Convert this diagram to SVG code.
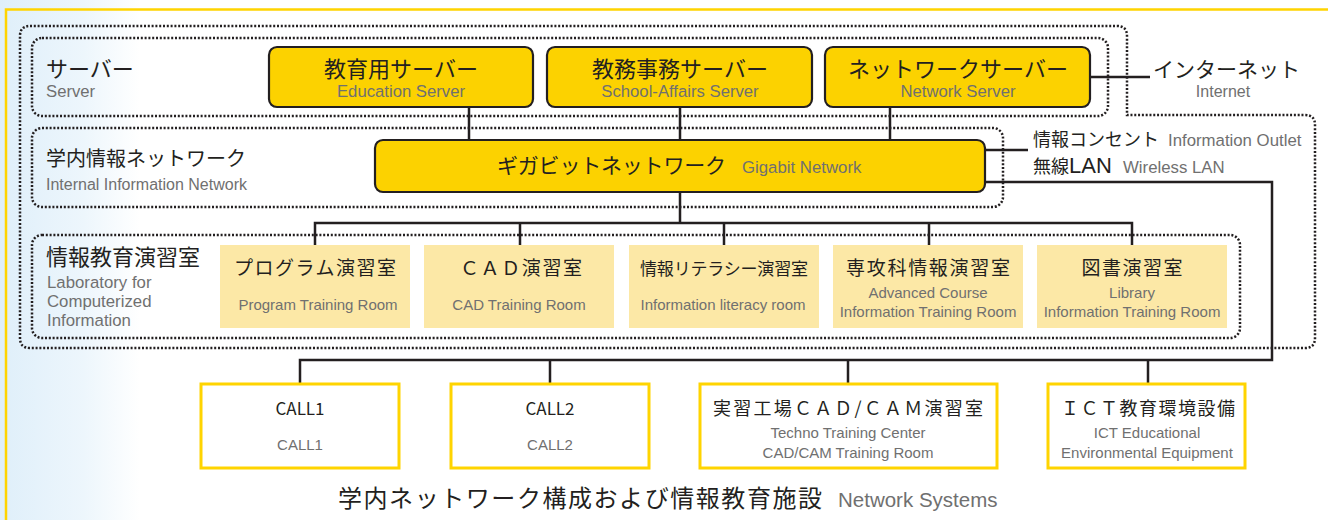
<svg xmlns="http://www.w3.org/2000/svg" width="1328" height="520" viewBox="0 0 1328 520">
<defs>
<linearGradient id="bg" x1="0" x2="1" y1="0" y2="0">
<stop offset="0" stop-color="#dfeffa"/>
<stop offset="0.6" stop-color="#edf6fc"/>
<stop offset="1" stop-color="#ffffff"/>
</linearGradient>
<style>
.dot{fill:none;stroke:#231F20;stroke-width:2.5;stroke-dasharray:2 1.8}
.srv{fill:#FCD200;stroke:#231F20;stroke-width:2.2}
.room{fill:#FCE8A6}
.bx{fill:#ffffff;stroke:#FFD400;stroke-width:3}
.jp{font-family:"Noto Sans CJK JP","Noto Sans CJK SC",sans-serif;fill:#231F20}
.en{font-family:"Liberation Sans",Arial,sans-serif;fill:#707070}
.ln{fill:none;stroke:#231F20;stroke-width:2.5}
.c{text-anchor:middle}
</style>
</defs>
<rect x="0" y="0" width="1328" height="520" fill="#ffffff"/>
<rect x="0" y="0" width="140" height="520" fill="url(#bg)"/>
<rect x="6" y="9.5" width="1340" height="530" fill="none" stroke="#FFD400" stroke-width="2.5"/>

<g id="groups">
<path class="dot" d="M30 26 H1117 Q1127 26 1127 36 V115 H1305 Q1315 115 1315 125 V338 Q1315 348 1305 348 H30 Q20 348 20 338 V36 Q20 26 30 26 Z"/>
<rect class="dot" x="32" y="38" width="1076" height="78" rx="10"/>
<rect class="dot" x="32" y="128" width="971" height="79" rx="10"/>
<rect class="dot" x="32" y="235" width="1208" height="103" rx="10"/>
<text class="jp" x="46" y="77" font-size="22">サーバー</text>
<text class="en" x="46" y="97" font-size="16.7">Server</text>
<text class="jp" x="46" y="166" font-size="20">学内情報ネットワーク</text>
<text class="en" x="46" y="190" font-size="16">Internal Information Network</text>
<text class="jp" x="46" y="265" font-size="22">情報教育演習室</text>
<text class="en" x="47" y="288" font-size="16.8">Laboratory for</text>
<text class="en" x="47" y="307" font-size="16.8">Computerized</text>
<text class="en" x="47" y="326" font-size="16.8">Information</text>
</g>

<g id="connectors">
<path class="ln" d="M469 107 V140 M680 107 V140 M890 107 V140"/>
<path class="ln" d="M1090 77 H1150"/>
<path class="ln" d="M985 150 H1028"/>
<path class="ln" d="M985 182 H1272 V360 H300 V384 M550 360 V384 M848 360 V384 M1148 360 V384"/>
<path class="ln" d="M680 192 V223 M315 245 V223 H1132 V245 M520 223 V245 M724 223 V245 M929 223 V245"/>
</g>

<g id="education-server">
<rect class="srv" x="269" y="47" width="264" height="60" rx="8"/>
<text class="jp c" x="401" y="77" font-size="22">教育用サーバー</text>
<text class="en c" x="401" y="97" font-size="16.7">Education Server</text>
</g>
<g id="school-affairs-server">
<rect class="srv" x="547" y="47" width="265" height="60" rx="8"/>
<text class="jp c" x="680" y="77" font-size="22">教務事務サーバー</text>
<text class="en c" x="680" y="97" font-size="16.7">School-Affairs Server</text>
</g>
<g id="network-server">
<rect class="srv" x="825" y="47" width="265" height="60" rx="8"/>
<text class="jp c" x="958" y="77" font-size="22">ネットワークサーバー</text>
<text class="en c" x="958" y="97" font-size="16.7">Network Server</text>
</g>
<g id="internet">
<text class="jp" x="1153" y="77" font-size="21">インターネット</text>
<text class="en c" x="1223" y="97" font-size="16">Internet</text>
</g>
<g id="gigabit">
<rect class="srv" x="375" y="140" width="610" height="52" rx="8"/>
<text class="jp" x="497" y="173" font-size="21" textLength="229">ギガビットネットワーク</text>
<text class="en" x="742" y="173" font-size="16.8">Gigabit Network</text>
</g>
<g id="outlet">
<text class="jp" x="1033" y="146" font-size="18">情報コンセント</text>
<text class="en" x="1168" y="146" font-size="16.8">Information Outlet</text>
<text class="jp" x="1033" y="173" font-size="18">無線<tspan font-family="Liberation Sans, Arial, sans-serif" font-size="22">LAN</tspan></text>
<text class="en" x="1123" y="173" font-size="16.8">Wireless LAN</text>
</g>

<g id="room-program">
<rect class="room" x="220" y="245" width="190" height="83"/>
<text class="jp c" x="315" y="275" font-size="19" textLength="162">プログラム演習室</text>
<text class="en c" x="318" y="310" font-size="15">Program Training Room</text>
</g>
<g id="room-cad">
<rect class="room" x="424" y="245" width="190" height="83"/>
<text class="jp c" x="521" y="275" font-size="19" textLength="122">ＣＡＤ演習室</text>
<text class="en c" x="519" y="310" font-size="15">CAD Training Room</text>
</g>
<g id="room-literacy">
<rect class="room" x="629" y="245" width="190" height="83"/>
<text class="jp c" x="724" y="275" font-size="17" textLength="168">情報リテラシー演習室</text>
<text class="en c" x="723" y="310" font-size="15">Information literacy room</text>
</g>
<g id="room-advanced">
<rect class="room" x="833" y="245" width="190" height="83"/>
<text class="jp c" x="928" y="275" font-size="19" textLength="164">専攻科情報演習室</text>
<text class="en c" x="928" y="298" font-size="15">Advanced Course</text>
<text class="en c" x="928" y="317" font-size="15">Information Training Room</text>
</g>
<g id="room-library">
<rect class="room" x="1037" y="245" width="190" height="83"/>
<text class="jp c" x="1132" y="275" font-size="19" textLength="101">図書演習室</text>
<text class="en c" x="1132" y="298" font-size="15">Library</text>
<text class="en c" x="1132" y="317" font-size="15">Information Training Room</text>
</g>

<g id="call1">
<rect class="bx" x="201" y="384" width="198" height="84"/>
<text class="jp c" x="300" y="415" font-size="17">CALL1</text>
<text class="en c" x="300" y="450" font-size="15">CALL1</text>
</g>
<g id="call2">
<rect class="bx" x="451" y="384" width="198" height="84"/>
<text class="jp c" x="550" y="415" font-size="17">CALL2</text>
<text class="en c" x="550" y="450" font-size="15">CALL2</text>
</g>
<g id="techno">
<rect class="bx" x="700" y="384" width="297" height="84"/>
<text class="jp c" x="848" y="415" font-size="18" textLength="270">実習工場ＣＡＤ/ＣＡＭ演習室</text>
<text class="en c" x="848" y="438" font-size="15">Techno Training Center</text>
<text class="en c" x="848" y="458" font-size="15">CAD/CAM Training Room</text>
</g>
<g id="ict">
<rect class="bx" x="1048" y="384" width="197" height="84"/>
<text class="jp c" x="1148" y="415" font-size="18" textLength="174">ＩＣＴ教育環境設備</text>
<text class="en c" x="1147" y="438" font-size="15">ICT Educational</text>
<text class="en c" x="1147" y="458" font-size="15">Environmental Equipment</text>
</g>

<g id="title">
<text class="jp" x="338" y="507" font-size="24" textLength="484">学内ネットワーク構成および情報教育施設</text>
<text class="en" x="838" y="507" font-size="20.5">Network Systems</text>
</g>
</svg>
